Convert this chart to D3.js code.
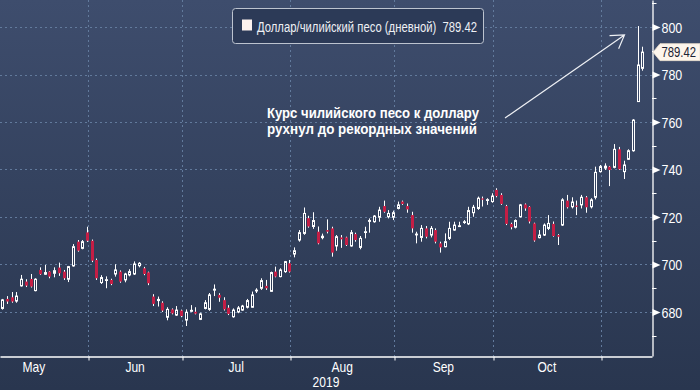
<!DOCTYPE html>
<html><head><meta charset="utf-8">
<script src="https://cdn.jsdelivr.net/npm/d3@7"></script>
<style>html,body{margin:0;padding:0;background:#2b3954;overflow:hidden}</style>
</head><body><svg id="c" width="700" height="390"></svg>
<script>
// ---------- DATA ----------
const seriesName = "Доллар/чилийский песо (дневной)";
const lastPrice = 789.42;
const annotationLines = ["Курс чилийского песо к доллару", "рухнул до рекордных значений"];
const yearLabel = "2019";
const monthNames = ["May", "Jun", "Jul", "Aug", "Sep", "Oct", "Nov"];
const yTicks = [680, 700, 720, 740, 760, 780, 800];
const yMinorTicks = [670, 690, 710, 730, 750, 770, 790, 810];
// daily candles, 8 May 2019 .. 14 Nov 2019 (trading days)
const opens = [681.5,685.5,686.2,684.6,691.0,692.8,693.9,689.0,697.7,695.9,697.0,696.3,698.7,697.0,693.8,699.4,709.6,706.8,
713.5,710.0,701.9,692.4,693.3,693.5,696.0,697.0,693.5,695.6,696.0,699.5,698.4,696.7,686.5,684.8,683.9,677.8,681.1,678.7,
680.6,676.6,680.3,680.1,676.9,681.5,681.1,689.2,687.2,685.0,681.8,678.0,680.0,680.8,682.0,682.0,689.0,690.0,691.0,688.7,697.0,694.9,697.0,
700.5,704.4,710.3,713.1,719.5,716.0,713.8,711.3,714.5,715.2,707.8,711.4,711.4,707.8,712.8,707.2,713.6,718.3,718.0,719.9,724.6,720.1,
719.9,723.6,726.5,724.6,720.8,712.6,711.4,715.2,712.4,714.5,708.9,707.5,711.0,714.5,716.0,717.8,717.1,721.8,723.6,727.8,727.0,
726.5,731.4,729.3,724.6,717.1,715.7,720.1,725.3,724.3,717.3,711.3,712.4,715.2,717.1,712.4,716.6,726.9,724.3,724.8,725.1,728.3,724.3,728.3,
739.1,740.6,741.2,740.9,748.5,739.1,744.3,747.9,768.6,782.6];
const highs = [685.5,686.7,688.4,688.4,695.6,693.8,696.0,694.2,698.8,699.8,697.2,698.8,700.8,697.7,699.4,708.6,710.3,710.3,
715.9,710.5,702.5,695.5,695.0,694.0,700.1,697.5,696.5,698.0,701.3,701.0,699.0,697.0,687.5,686.5,684.5,682.0,681.5,682.5,
681.0,681.1,682.9,682.0,679.7,685.0,688.0,691.6,687.9,686.2,682.9,681.5,682.5,683.0,685.5,688.6,690.0,694.2,693.5,697.0,699.1,698.4,701.5,
701.9,707.2,714.5,724.0,720.5,722.0,716.0,713.0,719.0,715.9,712.4,712.4,711.7,714.5,713.4,712.0,715.9,719.4,720.8,724.3,726.9,722.9,
722.7,726.5,726.9,725.7,722.2,713.8,716.6,716.2,716.2,715.2,709.6,713.1,718.0,718.0,718.0,718.7,724.3,725.1,728.6,728.6,727.9,
730.0,732.1,730.0,725.1,717.6,719.0,725.5,725.7,724.6,717.6,714.5,717.3,720.8,718.1,712.8,727.9,729.3,728.3,726.9,729.3,728.8,727.9,741.2,
741.9,742.6,741.5,750.7,749.5,743.7,748.5,761.2,800.4,791.7];
const lows = [681.0,683.4,683.9,683.9,690.7,690.5,690.3,688.7,695.6,695.6,694.2,694.6,695.2,693.5,692.6,699.1,705.4,706.4,
709.5,701.0,693.5,691.8,690.0,691.3,694.9,692.3,692.5,695.0,695.6,698.8,695.5,691.3,682.5,682.3,680.0,676.5,679.0,678.3,
677.8,674.1,680.0,679.0,676.6,681.1,680.5,686.7,684.3,680.6,678.7,677.6,679.5,680.5,681.5,681.8,688.0,689.3,689.3,688.5,694.6,694.6,696.5,
696.6,703.0,709.6,712.5,715.5,715.0,708.5,710.6,713.1,703.3,705.8,707.0,707.8,707.5,709.6,706.4,711.0,713.4,717.6,718.0,721.8,719.4,
718.7,723.2,725.1,721.8,713.4,708.9,709.6,711.0,711.4,708.9,705.0,707.2,710.3,714.2,715.9,717.1,716.6,720.1,723.0,724.4,725.1,
726.0,728.3,725.1,716.6,714.8,715.2,719.8,722.6,717.3,709.6,711.0,712.0,714.5,711.7,708.2,716.2,723.6,723.6,720.8,723.6,721.8,723.6,727.4,
738.7,739.8,733.0,740.5,739.8,736.0,744.0,747.5,768.6,781.6];
const closes = [685.1,684.4,684.4,686.7,693.8,691.1,690.7,693.8,695.9,696.6,694.9,697.4,696.3,694.2,699.1,707.5,705.8,709.6,
710.0,701.6,694.2,694.5,693.6,691.8,697.7,692.8,696.0,697.0,700.2,700.5,696.0,692.1,683.4,685.3,680.6,681.1,679.4,680.8,
678.3,679.9,680.7,679.3,679.2,683.9,687.2,689.6,686.0,681.1,679.2,680.8,681.7,682.5,684.8,687.2,689.2,693.2,690.0,696.6,694.9,697.7,701.2,
697.0,705.8,713.4,721.5,716.0,718.5,708.9,711.9,713.8,705.0,711.7,710.6,708.2,713.4,710.3,711.0,713.8,718.5,720.4,722.9,722.2,721.5,
721.8,725.1,725.5,723.2,715.2,712.8,715.2,711.7,715.2,709.6,707.2,709.6,715.2,716.6,716.3,718.0,722.7,724.1,727.9,727.6,727.3,
728.8,728.8,725.5,717.1,715.7,718.5,725.1,723.6,718.1,710.1,712.4,716.6,717.3,712.0,711.7,727.2,724.1,726.3,724.5,728.3,724.1,727.2,738.8,
741.2,741.4,739.8,748.5,740.1,741.9,747.9,760.8,784.0,789.42];

// ---------- SETUP ----------
const W = 700, H = 390, plotR = 652, plotB = 356;
const svg = d3.select("#c");
const FONT = "'Liberation Sans', Arial, sans-serif";

// trading-day calendar (weekdays) from 1 May 2019
const allDays = d3.timeDay.range(new Date(2019, 4, 1), new Date(2019, 10, 15)).filter(d => d.getDay() % 6 !== 0);
const firstIdx = allDays.findIndex(d => d.getMonth() === 4 && d.getDate() === 8);
const candles = opens.map((o, k) => ({i: firstIdx + k, o, h: highs[k], l: lows[k], c: closes[k]}));

const x = d3.scaleLinear().domain([4.29, 142.84]).range([0, plotR]);
const y = d3.scaleLinear().domain([661.47, 811.37]).range([plotB, 0]);

const monthStarts = monthNames.map((m, k) => allDays.findIndex(d => d.getMonth() === 4 + k));

// background
const defs = svg.append("defs");
const grad = defs.append("linearGradient").attr("id", "bg").attr("x1", 0).attr("y1", 0).attr("x2", 0).attr("y2", 1);
grad.append("stop").attr("offset", "0%").attr("stop-color", "#3e4d6d");
grad.append("stop").attr("offset", "100%").attr("stop-color", "#29364f");
svg.append("rect").attr("width", W).attr("height", H).attr("fill", "url(#bg)");

function condense(sel, f) {
  sel.each(function () {
    const w = this.getComputedTextLength();
    d3.select(this).attr("textLength", w * f).attr("lengthAdjust", "spacingAndGlyphs");
  });
}

// grid
const gridColor = "#627a9c";
svg.append("g").selectAll("line").data(yTicks).join("line")
  .attr("x1", 0).attr("x2", plotR)
  .attr("y1", d => Math.round(y(d)) + 0.5).attr("y2", d => Math.round(y(d)) + 0.5)
  .attr("stroke", gridColor).attr("stroke-dasharray", "2,3");
svg.append("g").selectAll("line").data(monthStarts.slice(1)).join("line")
  .attr("x1", d => Math.round(x(d)) + 0.5).attr("x2", d => Math.round(x(d)) + 0.5)
  .attr("y1", 0).attr("y2", plotB)
  .attr("stroke", gridColor).attr("stroke-dasharray", "2,3");

// candles
const red = "#c41e45";
const cg = svg.append("g");
candles.forEach(d => {
  const rx = Math.round(x(d.i)) - 0.5 ;
  const px = Math.floor(rx);
  const cx = px + 0.5;
  const top = y(Math.max(d.o, d.c)), bot = y(Math.min(d.o, d.c));
  const up = d.c >= d.o;
  if (up) {
    cg.append("line").attr("x1", cx).attr("x2", cx).attr("y1", y(d.h)).attr("y2", top).attr("stroke", "#fff").attr("stroke-width", 1);
    cg.append("line").attr("x1", cx).attr("x2", cx).attr("y1", bot).attr("y2", y(d.l)).attr("stroke", "#fff").attr("stroke-width", 1);
    cg.append("rect").attr("x", px - 0.5).attr("width", 2)
      .attr("y", top).attr("height", Math.max(0.8, bot - top))
      .attr("fill", "none").attr("stroke", "#fff").attr("stroke-width", 1);
  } else {
    cg.append("line").attr("x1", cx).attr("x2", cx).attr("y1", y(d.h)).attr("y2", y(d.l)).attr("stroke", "#fff").attr("stroke-width", 1);
    cg.append("rect").attr("x", px - 1).attr("width", 3)
      .attr("y", top).attr("height", Math.max(1.2, bot - top))
      .attr("fill", red);
  }
});

// axes
const yAxis = svg.append("g").attr("transform", `translate(${plotR + 0.5},0)`)
  .call(d3.axisRight(y).tickValues(yTicks).tickSize(0).tickSizeOuter(0).tickPadding(9).tickFormat(d3.format("d")));
yAxis.select(".domain").attr("stroke", "#fff").attr("stroke-width", 1.3);
yAxis.selectAll("text").attr("fill", "#fff").attr("font-size", 15).attr("font-family", FONT).attr("dy", "0.36em");
condense(yAxis.selectAll("text"), 0.83);
yAxis.selectAll(".tick").append("path").attr("d", "M0,-3.5L8,0L0,3.5Z").attr("fill", "#fff");
svg.append("g").selectAll("line").data(yMinorTicks).join("line")
  .attr("x1", plotR).attr("x2", plotR + 4.5)
  .attr("y1", d => Math.round(y(d)) + 0.5).attr("y2", d => Math.round(y(d)) + 0.5)
  .attr("stroke", "#fff");

const xAxis = svg.append("g").attr("transform", `translate(0,${plotB + 0.5})`)
  .call(d3.axisBottom(x).tickValues(monthStarts.slice(1).map(d => Math.round(x(d)) + 0.5).map(v => x.invert(v)))
    .tickSize(4).tickSizeOuter(0).tickFormat(""));
xAxis.select(".domain").attr("stroke", "#fff").attr("stroke-width", 1.3);
xAxis.selectAll(".tick line").attr("stroke", "#fff");

// month labels
const labelData = monthNames.slice(0, 6).map((m, k) => ({m, pos: (x(monthStarts[k]) + x(monthStarts[k + 1])) / 2}));
const ml = svg.append("g").selectAll("text").data(labelData).join("text")
  .attr("x", d => d.pos).attr("y", 371.5).attr("text-anchor", "middle")
  .attr("fill", "#fff").attr("font-size", 14.5).attr("font-family", FONT).text(d => d.m);
condense(ml, 0.83);
const yl = svg.append("text").attr("x", plotR / 2).attr("y", 386.5).attr("text-anchor", "middle")
  .attr("fill", "#fff").attr("font-size", 14.5).attr("font-family", FONT).text(yearLabel);
condense(yl, 0.83);

// last price tag
const ty = y(lastPrice);
svg.append("path")
  .attr("d", `M${plotR + 1},${ty} L${plotR + 8},${ty - 8.5} L700,${ty - 8.5} L700,${ty + 8.5} L${plotR + 8},${ty + 8.5} Z`)
  .attr("fill", "#fdf5ec").attr("stroke", "#e8dccd").attr("stroke-width", 0.8);
svg.append("text")
  .attr("transform", `translate(${plotR + 9.5},${ty + 5.2}) scale(0.78,1)`)
  .attr("fill", "#1b2233").attr("font-size", 14.5).attr("font-family", FONT).text(lastPrice.toFixed(2));

// legend
svg.append("rect").attr("x", 232.5).attr("y", 8.5).attr("width", 251).attr("height", 35).attr("rx", 3)
  .attr("fill", "#2c3a57").attr("stroke", "#bcc3cf").attr("stroke-width", 1);
svg.append("rect").attr("x", 242).attr("y", 19.5).attr("width", 10).attr("height", 11).attr("fill", "#fdf2ee");
const lt = svg.append("text").attr("x", 257).attr("y", 31.5).attr("fill", "#eef0f4")
  .attr("font-size", 14).attr("font-family", FONT).text(seriesName + "  " + lastPrice.toFixed(2));
lt.attr("textLength", 220).attr("lengthAdjust", "spacingAndGlyphs").style("white-space", "pre");

// annotation
const at = svg.append("g");
annotationLines.forEach((t, k) => {
  at.append("text").attr("x", 267).attr("y", 117.5 + k * 16).attr("fill", "#fff")
    .attr("font-size", 14).attr("font-weight", "bold").attr("font-family", FONT)
    .attr("textLength", k === 0 ? 212 : 210).attr("lengthAdjust", "spacingAndGlyphs").text(t);
});
const tip = [624.5, 35], tail = [505, 118];
const ang = Math.atan2(tail[1] - tip[1], tail[0] - tip[0]);
const arm = 15, spread = 0.56;
svg.append("path")
  .attr("d", `M${tail[0]},${tail[1]}L${tip[0]},${tip[1]}` +
    `M${tip[0] + arm * Math.cos(ang - spread)},${tip[1] + arm * Math.sin(ang - spread)}L${tip[0]},${tip[1]}` +
    `L${tip[0] + arm * Math.cos(ang + spread)},${tip[1] + arm * Math.sin(ang + spread)}`)
  .attr("fill", "none").attr("stroke", "#eef0f4").attr("stroke-width", 1.2);
</script></body></html>
